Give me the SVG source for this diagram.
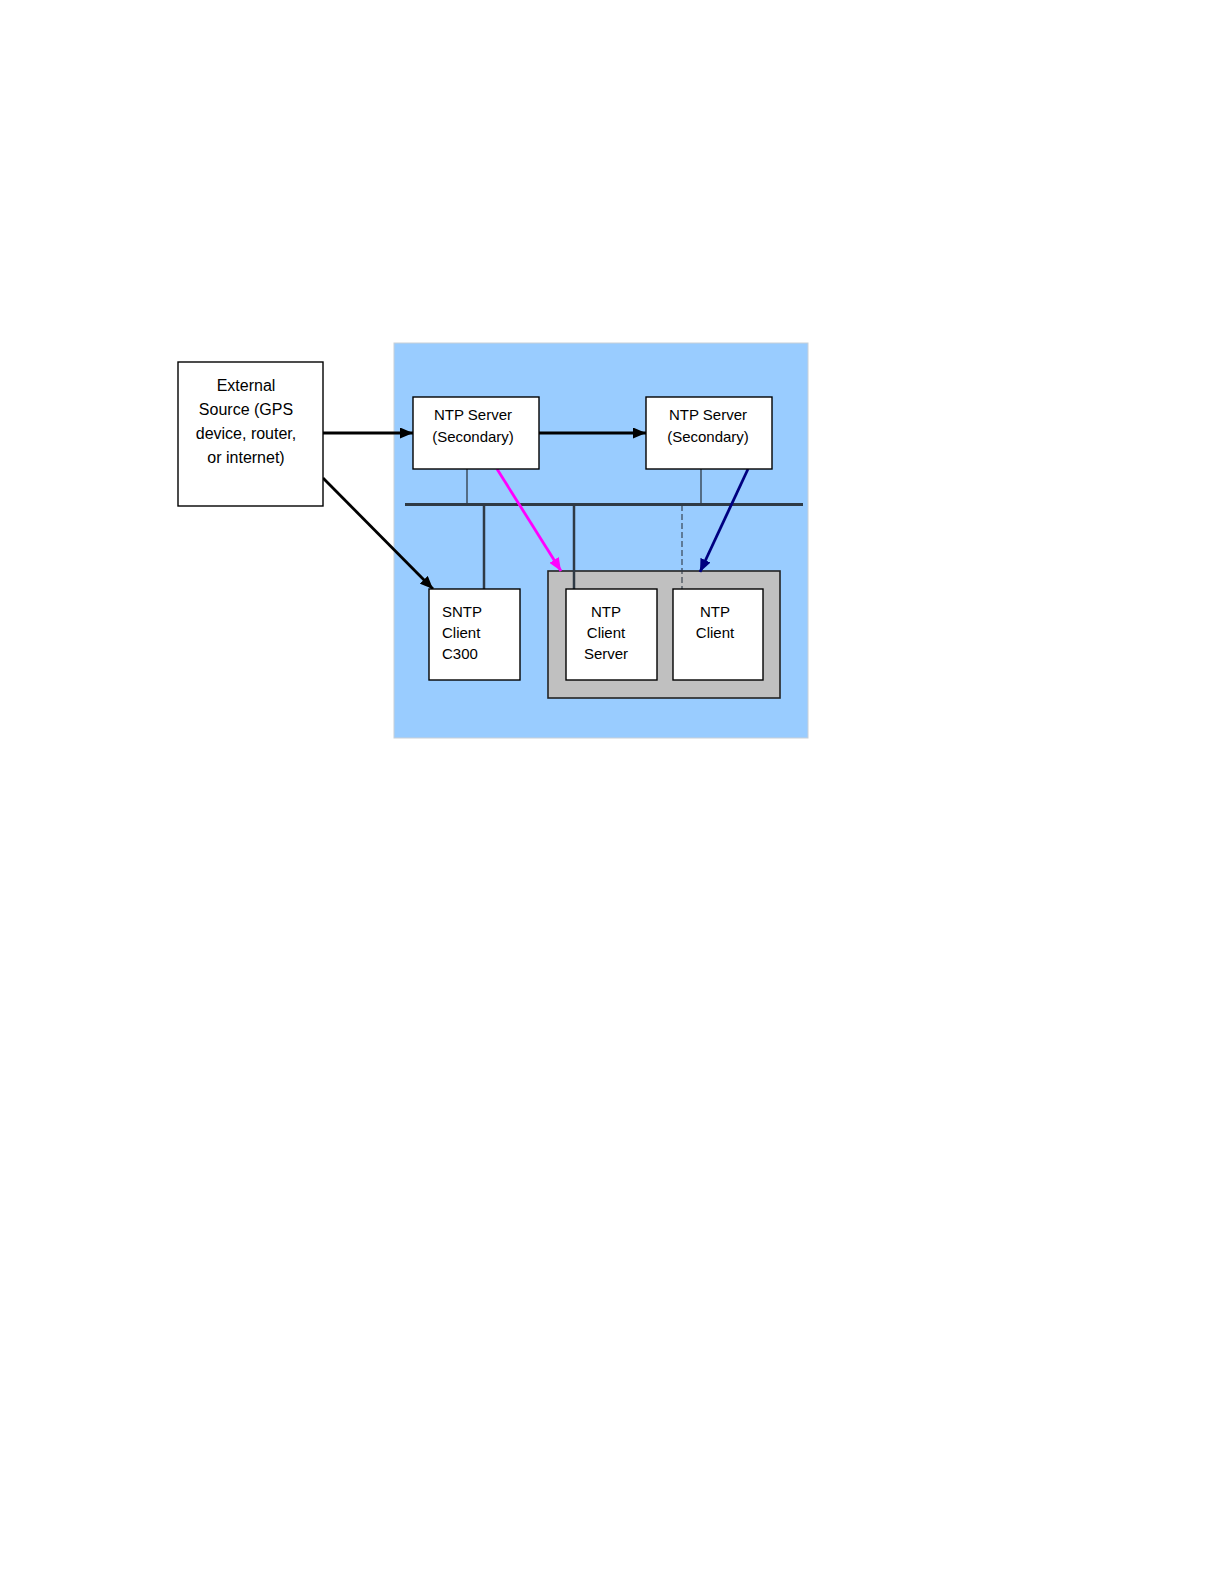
<svg xmlns="http://www.w3.org/2000/svg" width="1224" height="1584" viewBox="0 0 1224 1584">
<style>
.box{fill:#fff;stroke:#000;stroke-width:1.4}
.t{font-family:"Liberation Sans",Arial,sans-serif;font-size:15px;fill:#000}
.tl{font-family:"Liberation Sans",Arial,sans-serif;font-size:16px;fill:#000}
.c{text-anchor:middle}
.bus{stroke:#2f3a45;fill:none}
.arr{stroke-width:2.8;fill:none}
</style>
<defs>
<marker id="ab" markerUnits="userSpaceOnUse" markerWidth="13" markerHeight="11" refX="13" refY="5.5" orient="auto"><path d="M0,0 L13,5.5 L0,11 z" fill="#000"/></marker>
<marker id="am" markerUnits="userSpaceOnUse" markerWidth="13" markerHeight="11" refX="13" refY="5.5" orient="auto"><path d="M0,0 L13,5.5 L0,11 z" fill="#ff00ff"/></marker>
<marker id="an" markerUnits="userSpaceOnUse" markerWidth="13" markerHeight="11" refX="13" refY="5.5" orient="auto"><path d="M0,0 L13,5.5 L0,11 z" fill="#000080"/></marker>
</defs>
<rect width="1224" height="1584" fill="#fff"/>
<g id="panel"><rect x="394" y="343" width="414" height="395" fill="#99ccff" stroke="#c8d0d8" stroke-width="1"/></g>
<g id="group-box"><rect x="548" y="571" width="232" height="127" fill="#c0c0c0" stroke="#222" stroke-width="1.6"/></g>
<g id="connectors">
<line class="bus" x1="405" y1="504.5" x2="803" y2="504.5" stroke-width="2.8"/>
<line class="bus" x1="467" y1="469" x2="467" y2="504" stroke-width="1.3"/>
<line class="bus" x1="701" y1="469" x2="701" y2="504" stroke-width="1.3"/>
<line class="bus" x1="484" y1="504" x2="484" y2="589" stroke-width="2.5"/>
<line class="bus" x1="574" y1="504" x2="574" y2="589" stroke-width="2.5"/>
<line class="bus" x1="682" y1="505" x2="682" y2="589" stroke-width="1.1" stroke-dasharray="6,3"/>
<line class="arr" x1="322" y1="433" x2="413" y2="433" stroke="#000" marker-end="url(#ab)"/>
<line class="arr" x1="539" y1="433" x2="646" y2="433" stroke="#000" marker-end="url(#ab)"/>
<line class="arr" x1="323" y1="478" x2="433" y2="589" stroke="#000" marker-end="url(#ab)"/>
<line class="arr" x1="497" y1="469" x2="561" y2="571" stroke="#ff00ff" marker-end="url(#am)"/>
<line class="arr" x1="748" y1="469" x2="700" y2="572" stroke="#000080" marker-end="url(#an)"/>
</g>
<g id="external">
<rect class="box" x="178" y="362" width="145" height="144"/>
<text class="tl c" x="246" y="391">External</text>
<text class="tl c" x="246" y="415">Source (GPS</text>
<text class="tl c" x="246" y="439">device, router,</text>
<text class="tl c" x="246" y="463">or internet)</text>
</g>
<g id="ntp-server-1">
<rect class="box" x="413" y="397" width="126" height="72"/>
<text class="t c" x="473" y="420">NTP Server</text>
<text class="t c" x="473" y="442">(Secondary)</text>
</g>
<g id="ntp-server-2">
<rect class="box" x="646" y="397" width="126" height="72"/>
<text class="t c" x="708" y="420">NTP Server</text>
<text class="t c" x="708" y="442">(Secondary)</text>
</g>
<g id="sntp-client">
<rect class="box" x="429" y="589" width="91" height="91"/>
<text class="t" x="442" y="617">SNTP</text>
<text class="t" x="442" y="638">Client</text>
<text class="t" x="442" y="659">C300</text>
</g>
<g id="ntp-client-server">
<rect class="box" x="566" y="589" width="91" height="91"/>
<text class="t c" x="606" y="617">NTP</text>
<text class="t c" x="606" y="638">Client</text>
<text class="t c" x="606" y="659">Server</text>
</g>
<g id="ntp-client">
<rect class="box" x="673" y="589" width="90" height="91"/>
<text class="t c" x="715" y="617">NTP</text>
<text class="t c" x="715" y="638">Client</text>
</g>
</svg>
